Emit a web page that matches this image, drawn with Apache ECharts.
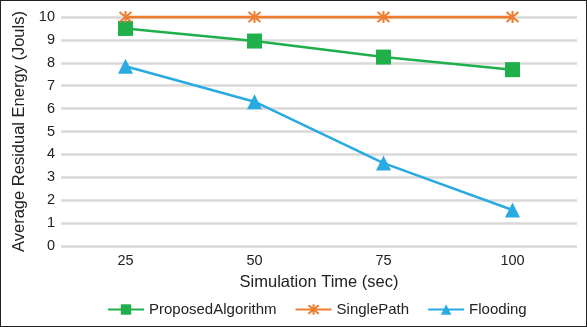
<!DOCTYPE html>
<html lang="en">
<head>
    <meta charset="UTF-8">
    <title>Average Residual Energy</title>
    <script src="https://cdn.jsdelivr.net/npm/echarts@6/dist/echarts.min.js"></script>
    <style>
        html, body { margin: 0; padding: 0; background: #fff; }
        #chart { width: 585px; height: 325px; border: 1px solid #222; }
    </style>
</head>
<body>
    <div id="chart"></div>
    <script type="text/javascript">
        var times = ['25', '50', '75', '100'];
        var proposed = [9.5, 8.95, 8.25, 7.7];
        var singlePath = [10, 10, 10, 10];
        var flooding = [7.85, 6.3, 3.62, 1.57];

        var starPath = 'path://M0,0L10,10M10,0L0,10M5,-1L5,11';
        var font = 'Liberation Sans, Arial, sans-serif';

        var option = {
            animation: false,
            textStyle: { fontFamily: font },
            grid: { left: 60, right: 9, top: 16, bottom: 80 },
            legend: {
                left: 101,
                bottom: 4,
                itemWidth: 36,
                itemHeight: 13,
                itemGap: 18,
                textStyle: { fontFamily: font, fontSize: 15, color: '#222' },
                data: ['ProposedAlgorithm', 'SinglePath', 'Flooding']
            },
            xAxis: {
                type: 'category',
                data: times,
                name: 'Simulation Time (sec)',
                nameLocation: 'middle',
                nameGap: 28,
                nameTextStyle: { fontFamily: font, fontSize: 16.5, color: '#222' },
                axisLine: { show: false },
                axisTick: { show: false },
                axisLabel: { fontFamily: font, fontSize: 14.5, color: '#222', margin: 7 }
            },
            yAxis: {
                type: 'value',
                min: 0,
                max: 10,
                interval: 1,
                name: 'Average Residual Energy (Jouls)',
                nameLocation: 'middle',
                nameGap: 31,
                nameTextStyle: { fontFamily: font, fontSize: 16.5, color: '#222' },
                axisLabel: { fontFamily: font, fontSize: 14.5, color: '#222', margin: 6 },
                splitLine: { lineStyle: { color: '#d9d9d9', width: 2.5 } }
            },
            series: [
                {
                    name: 'ProposedAlgorithm',
                    type: 'line',
                    data: proposed,
                    symbol: 'rect',
                    symbolSize: 15,
                    lineStyle: { color: '#1faf4b', width: 2.5 },
                    itemStyle: { color: '#1faf4b' }
                },
                {
                    name: 'SinglePath',
                    type: 'line',
                    data: singlePath,
                    symbol: starPath,
                    symbolSize: 12,
                    lineStyle: { color: '#ed7d31', width: 3 },
                    itemStyle: { color: '#ed7d31', borderColor: '#ed7d31', borderWidth: 2 }
                },
                {
                    name: 'Flooding',
                    type: 'line',
                    data: flooding,
                    symbol: 'triangle',
                    symbolSize: 15,
                    lineStyle: { color: '#29abe2', width: 2.5 },
                    itemStyle: { color: '#29abe2' }
                }
            ]
        };

        var chart = echarts.init(document.getElementById('chart'));
        chart.setOption(option);
    </script>
</body>
</html>
